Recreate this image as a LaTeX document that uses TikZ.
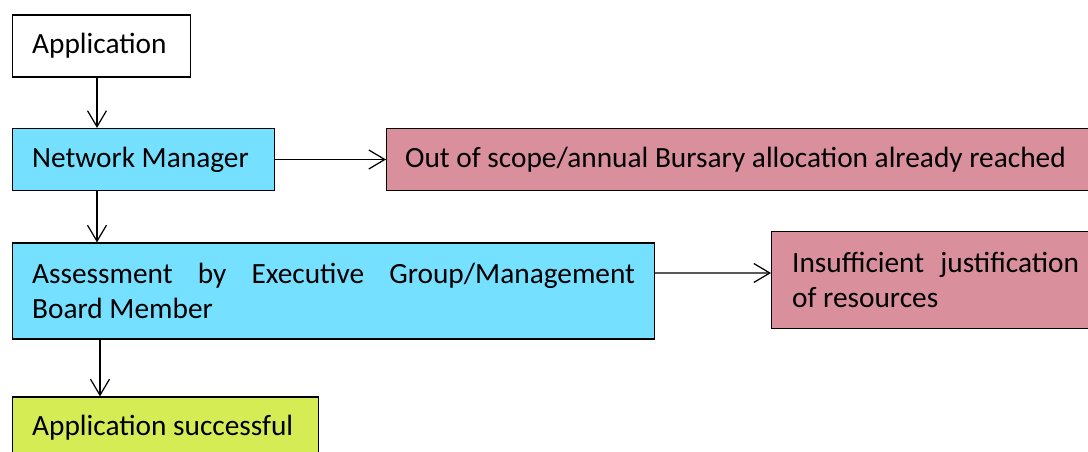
\documentclass[tikz,border=0pt]{standalone}
\usepackage{fontspec}
\setmainfont{Carlito}
\usetikzlibrary{arrows.meta}
\definecolor{boxcyan}{RGB}{117,224,255}
\definecolor{boxpink}{RGB}{218,143,157}
\definecolor{boxgreen}{RGB}{214,236,84}
\begin{document}
\begin{tikzpicture}[x=0.02cm,y=-0.02cm,
    box/.style={draw=black,line width=0.7pt,rectangle,anchor=west,inner xsep=0.39cm,inner ysep=0pt,
        font=\fontsize{16.7}{20}\selectfont,minimum height=1.24cm},
    arr/.style={line width=0.7pt,-{Straight Barb[length=0.32cm,width=0.38cm,line width=0.7pt]}}]
    \useasboundingbox (0,0) rectangle (1088,452);
    \node[box,fill=white,text width=2.78cm,align=flush left] (app) at (12,46) {Application};
    \node[box,fill=boxcyan,text width=4.46cm,align=flush left] (nm) at (12,159.5) {Network Manager};
    \node[box,fill=boxpink,inner xsep=0.37cm,text width=13.66cm,align=flush left] (oos) at (386,159.5) {Out of scope/annual Bursary allocation already reached};
    \node[box,fill=boxcyan,text width=12.06cm,minimum height=1.92cm,align=justify] (assess) at (12,291) {Assessment by Executive Group/Management\linebreak Board Member};
    \node[box,fill=boxpink,inner xsep=0.41cm,text width=5.74cm,minimum height=1.94cm,align=justify] (insuff) at (771,280) {Insufficient justification\linebreak of resources};
    \node[box,fill=boxgreen,text width=5.34cm,align=flush left] (succ) at (12,428) {Application successful};
    \draw[arr] ([xshift=1.7cm]app.south west) -- ([xshift=1.7cm]nm.north west);
    \draw[arr] (nm.east) -- (oos.west);
    \draw[arr] ([xshift=1.7cm]nm.south west) -- ([xshift=1.7cm]assess.north west);
    \draw[arr] ([yshift=0.36cm]assess.east) -- ([yshift=0.14cm]insuff.west);
    \draw[arr] ([xshift=1.76cm]assess.south west) -- ([xshift=1.76cm]succ.north west);
\end{tikzpicture}
\end{document}
